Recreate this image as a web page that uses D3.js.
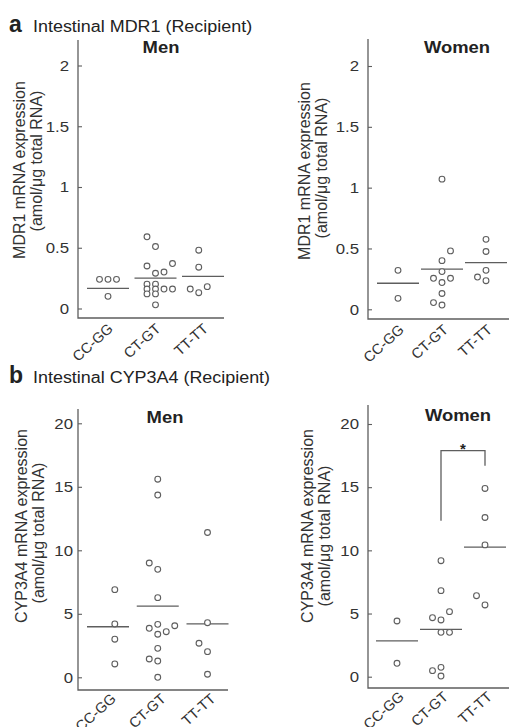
<!DOCTYPE html>
<html>
<head>
<meta charset="utf-8">
<script src="https://cdn.jsdelivr.net/npm/d3@7"></script>
<style>
  html, body { margin: 0; padding: 0; background: #fff; }
  svg { display: block; font-family: "Liberation Sans", Arial, sans-serif; }
</style>
</head>
<body>
<script>
// genotype groups and axis ticks
const genotypes = ["CC-GG", "CT-GT", "TT-TT"];
const mdr1Ticks = [0, 0.5, 1, 1.5, 2];
const cypTicks = [0, 5, 10, 15, 20];

// MDR1, men: values per genotype, jitter column per point, group lines
const mdr1MenValues = [
  [0.24, 0.24, 0.24, 0.10],
  [0.59, 0.51, 0.35, 0.37, 0.29, 0.30, 0.20, 0.20, 0.16, 0.16, 0.12, 0.12, 0.16, 0.16, 0.03],
  [0.48, 0.34, 0.16, 0.13, 0.18]
];
const mdr1MenCols = [
  [-1, 0, 1, 0],
  [-1, 0, -1, 2, 0, 1, -1, 0, -1, 0, -1, 0, 1, 2, 0],
  [-0.5, -0.5, -1.5, -0.5, 0.5]
];
const mdr1MenLines = [0.165, 0.25, 0.265];

// MDR1, women
const mdr1WomenValues = [
  [0.32, 0.09],
  [1.07, 0.48, 0.40, 0.31, 0.255, 0.22, 0.255, 0.13, 0.055, 0.035],
  [0.575, 0.475, 0.32, 0.265, 0.235]
];
const mdr1WomenCols = [
  [0, 0],
  [0, 1, 0, 0, -1, 0, 1, 0, -1, 0],
  [0, 0, 0, -1, 0]
];
const mdr1WomenLines = [0.214, 0.331, 0.383];

// CYP3A4, men
const cypMenValues = [
  [6.9, 4.2, 3.0, 1.05],
  [15.6, 14.35, 9.0, 8.5, 6.27, 3.86, 4.17, 3.39, 3.59, 4.06, 2.28, 1.44, 1.28, 0.0],
  [11.4, 4.3, 2.68, 2.02, 0.24]
];
const cypMenCols = [
  [0.8, 0.8, 0.8, 0.8],
  [0, 0, -1, 0, 0, -1, 0, 0, 1, 2, 0, -1, 0, 0],
  [0, 0, -1, 0, 0]
];
const cypMenLines = [3.98, 5.61, 4.2];

// CYP3A4, women
const cypWomenValues = [
  [4.41, 1.06],
  [9.18, 6.81, 4.67, 4.49, 5.15, 3.51, 3.51, 0.48, 0.74, 0.05],
  [14.9, 12.6, 10.43, 6.41, 5.68]
];
const cypWomenCols = [
  [0, 0],
  [0, 0, -1, 0, 1, 0, 1, -1, 0, 0],
  [0, 0, 0, -1, 0]
];
const cypWomenLines = [2.83, 3.75, 10.25];

// significance bracket CT-GT vs TT-TT (women, CYP3A4)
const sigBracket = { from: "CT-GT", to: "TT-TT", top: 17.9, leftEnd: 12.35, rightEnd: 16.7, label: "*" };

const width = 509, height = 727;
const ink = "#222", grey = "#5e5e5e";
const colStep = 8.5;

const svg = d3.select("body").append("svg")
    .attr("width", width)
    .attr("height", height);

// horizontal text in the scan is a bit wider than its height suggests
function stretch(sel, k) {
  sel.each(function() {
    const w = this.getComputedTextLength();
    d3.select(this).attr("textLength", w * k).attr("lengthAdjust", "spacingAndGlyphs");
  });
}

function sectionTitle(letter, text, y) {
  svg.append("text").attr("x", 9).attr("y", y)
      .attr("font-size", 23).attr("font-weight", "bold").attr("fill", ink)
      .text(letter);
  svg.append("text").attr("x", 33).attr("y", y)
      .attr("font-size", 16).attr("fill", ink)
      .text(text)
      .call(stretch, 1.12);
}

function panel(p) {
  const g = svg.append("g");
  const y = d3.scaleLinear().domain([0, p.max]).range([p.y0, p.yMax]);
  const x = d3.scalePoint().domain(genotypes).range(p.cats);

  // L-shaped frame
  g.append("path")
      .attr("d", `M${p.x0},${p.yTop}V${p.yBase}H${p.xEnd}`)
      .attr("fill", "none").attr("stroke", grey).attr("stroke-width", 1.3);

  const ax = g.append("g")
      .attr("transform", `translate(${p.x0},0)`)
      .call(d3.axisLeft(y).tickValues(p.ticks).tickSize(5).tickPadding(p.pad)
        .tickFormat(d3.format("")));
  ax.select(".domain").remove();
  ax.selectAll(".tick line").attr("x2", 4).attr("stroke", grey).attr("stroke-width", 1.1);
  ax.selectAll(".tick text")
      .attr("font-size", 15).attr("fill", "#333")
      .attr("font-family", "Liberation Sans, Arial, sans-serif")
      .call(stretch, 1.12);

  // y label (two lines)
  p.label.forEach((t, i) => {
    g.append("text")
        .attr("transform", `translate(${p.labelX[i]},${p.labelY[i]}) rotate(-90)`)
        .attr("text-anchor", "middle")
        .attr("font-size", 16).attr("fill", "#333")
        .text(t);
  });

  // category labels
  g.selectAll(".cat").data(genotypes).join("text")
      .attr("transform", d => `translate(${x(d) + p.catDx},${p.yBase + p.catDy}) rotate(-42)`)
      .attr("text-anchor", "end")
      .attr("font-size", 14.5).attr("fill", "#333")
      .text(d => d);

  // title
  g.append("text").attr("x", p.titleX).attr("y", p.titleY)
      .attr("text-anchor", "middle")
      .attr("font-size", 16).attr("font-weight", "bold").attr("fill", ink)
      .text(p.title)
      .call(stretch, 1.15);

  // group lines
  g.selectAll(".mid").data(p.lines).join("line")
      .attr("x1", (d, i) => x(genotypes[i]) - 21)
      .attr("x2", (d, i) => x(genotypes[i]) + 21)
      .attr("y1", d => y(d)).attr("y2", d => y(d))
      .attr("stroke", grey).attr("stroke-width", 1.3);

  // points
  const pts = [];
  p.values.forEach((vals, i) => vals.forEach((v, j) =>
    pts.push({ g: genotypes[i], v: v, c: p.cols[i][j] })));
  g.selectAll(".pt").data(pts).join("circle")
      .attr("cx", d => x(d.g) + d.c * colStep)
      .attr("cy", d => y(d.v))
      .attr("r", 2.9)
      .attr("fill", "#fff").attr("stroke", grey).attr("stroke-width", 1.1);

  if (p.sig) {
    const s = p.sig;
    const xl = x(s.from), xr = x(s.to);
    g.append("path")
        .attr("d", `M${xl},${y(s.leftEnd)}V${y(s.top)}H${xr}V${y(s.rightEnd)}`)
        .attr("fill", "none").attr("stroke", grey).attr("stroke-width", 1.3);
    g.append("text").attr("x", (xl + xr) / 2).attr("y", y(s.top) + 3)
        .attr("text-anchor", "middle")
        .attr("font-size", 15).attr("font-weight", "bold").attr("fill", ink)
        .text(s.label);
  }
}

sectionTitle("a", "Intestinal MDR1 (Recipient)", 32);
sectionTitle("b", "Intestinal CYP3A4 (Recipient)", 383);

const mdr1Label = ["MDR1 mRNA expression", "(amol/\u03bcg total RNA)"];
const cypLabel = ["CYP3A4 mRNA expression", "(amol/\u03bcg total RNA)"];

panel({ values: mdr1MenValues, cols: mdr1MenCols, lines: mdr1MenLines, ticks: mdr1Ticks, max: 2,
  x0: 78, xEnd: 224, yTop: 40, yBase: 318, y0: 308.5, yMax: 65.5, cats: [108, 203], pad: 4,
  label: mdr1Label, labelX: [25, 42], labelY: [170, 161], title: "Men", titleX: 161, titleY: 53,
  catDx: 6, catDy: 12 });

panel({ values: mdr1WomenValues, cols: mdr1WomenCols, lines: mdr1WomenLines, ticks: mdr1Ticks, max: 2,
  x0: 368, xEnd: 509, yTop: 39, yBase: 319, y0: 309.3, yMax: 66, cats: [398, 486], pad: 4,
  label: mdr1Label, labelX: [310, 327], labelY: [171, 168], title: "Women", titleX: 457, titleY: 53,
  catDx: 7, catDy: 12 });

panel({ values: cypMenValues, cols: cypMenCols, lines: cypMenLines, ticks: cypTicks, max: 20,
  x0: 78, xEnd: 228, yTop: 409, yBase: 690, y0: 677.3, yMax: 423.3, cats: [108, 207.5], pad: 0,
  label: cypLabel, labelX: [27, 44], labelY: [526, 533], title: "Men", titleX: 165, titleY: 423,
  catDx: 9, catDy: 10 });

panel({ values: cypWomenValues, cols: cypWomenCols, lines: cypWomenLines, ticks: cypTicks, max: 20,
  x0: 368, xEnd: 509, yTop: 405, yBase: 688, y0: 676.7, yMax: 424, cats: [397, 485], pad: 4,
  label: cypLabel, labelX: [313, 330], labelY: [526, 536], title: "Women", titleX: 458, titleY: 421,
  catDx: 8, catDy: 10, sig: sigBracket });
</script>
</body>
</html>
